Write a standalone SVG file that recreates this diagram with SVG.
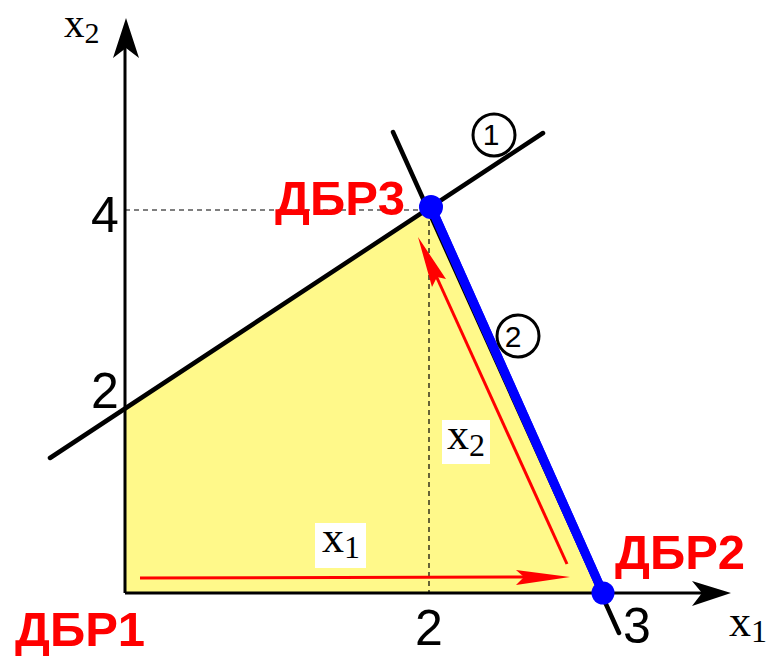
<svg xmlns="http://www.w3.org/2000/svg" width="769" height="657" viewBox="0 0 769 657">
<style>
.ax{stroke:#000;stroke-width:3;fill:none}
.bl{stroke:#000;stroke-width:4.5;stroke-linecap:round;fill:none}
.dash{stroke:#000;stroke-width:1.2;stroke-dasharray:5,4;fill:none}
.red{stroke:#ff0000;stroke-width:3;fill:none}
.num{font-family:"Liberation Sans",Arial,sans-serif;font-size:50px;fill:#000;text-anchor:middle}
.lbl{font-family:"Liberation Sans",Arial,sans-serif;font-size:49px;font-weight:bold;fill:#ff0000}
.var{font-family:"Liberation Serif","Times New Roman",serif;font-size:44px;fill:#000}
.sub{font-size:32px}
.circ{fill:#fff;stroke:#000;stroke-width:3}
.cn{font-family:"Liberation Sans",Arial,sans-serif;font-size:30px;fill:#000;text-anchor:middle}
.blue{stroke:#0000ff;stroke-width:9}
</style>
<rect width="769" height="657" fill="#fff"/>
<g id="region">
<polygon points="125,408 431,207 603,593 125,593" fill="#fff98a"/>
</g>
<g id="guides">
<line class="dash" x1="125" y1="210" x2="428" y2="210"/>
<line class="dash" x1="429" y1="212" x2="429" y2="593"/>
</g>
<g id="connectors">
<line class="bl" x1="50" y1="458" x2="543" y2="133"/>
<line class="bl" x1="393" y1="132" x2="619" y2="633"/>
<line class="blue" x1="431" y1="207" x2="603" y2="593"/>
<line class="ax" x1="125" y1="593" x2="125" y2="40"/>
<path d="M126,18 L113,58 L126,48 L139,58 Z" fill="#000"/>
<line class="ax" x1="125" y1="593" x2="705" y2="593"/>
<path d="M731,593 L692,581 L702,593 L692,606 Z" fill="#000"/>
<line class="red" x1="140" y1="578" x2="530" y2="577"/>
<path d="M570,577 L516,570 L524,577 L516,585 Z" fill="#ff0000"/>
<line class="red" x1="567" y1="564" x2="428" y2="258"/>
<path d="M418,237 L446,279 L437,277 L432,287 Z" fill="#ff0000"/>
</g>
<g id="constraint1">
<circle class="circ" cx="494" cy="135" r="21"/>
<text class="cn" x="491" y="145">1</text>
</g>
<g id="constraint2">
<circle class="circ" cx="518" cy="336" r="21"/>
<line class="blue" x1="431" y1="207" x2="603" y2="593"/>
<text class="cn" x="513" y="347">2</text>
</g>
<g id="DBR1">
<text class="lbl" x="15" y="646">ДБР1</text>
</g>
<g id="DBR2">
<circle cx="603" cy="593" r="11.5" fill="#0000ff"/>
<text class="lbl" x="615" y="569">ДБР2</text>
</g>
<g id="DBR3">
<circle cx="431" cy="207" r="12" fill="#0000ff"/>
<text class="lbl" x="275" y="215">ДБР3</text>
</g>
<g id="ticks">
<text class="num" x="105" y="232">4</text>
<text class="num" x="105" y="408">2</text>
<text class="num" x="429" y="645">2</text>
<text class="num" x="637" y="643">3</text>
</g>
<g id="axis-labels">
<text class="var" x="64" y="37" style="font-size:41px">x<tspan class="sub" dy="6" style="font-size:30px">2</tspan></text>
<text class="var" x="729" y="636">x<tspan class="sub" dy="6">1</tspan></text>
</g>
<g id="step-x1">
<rect x="315" y="523" width="51" height="45" fill="#fff"/>
<text class="var" x="322" y="552">x<tspan class="sub" dy="6">1</tspan></text>
</g>
<g id="step-x2">
<rect x="442" y="420" width="48" height="44" fill="#fff"/>
<text class="var" x="447" y="449">x<tspan class="sub" dy="7">2</tspan></text>
</g>
</svg>
